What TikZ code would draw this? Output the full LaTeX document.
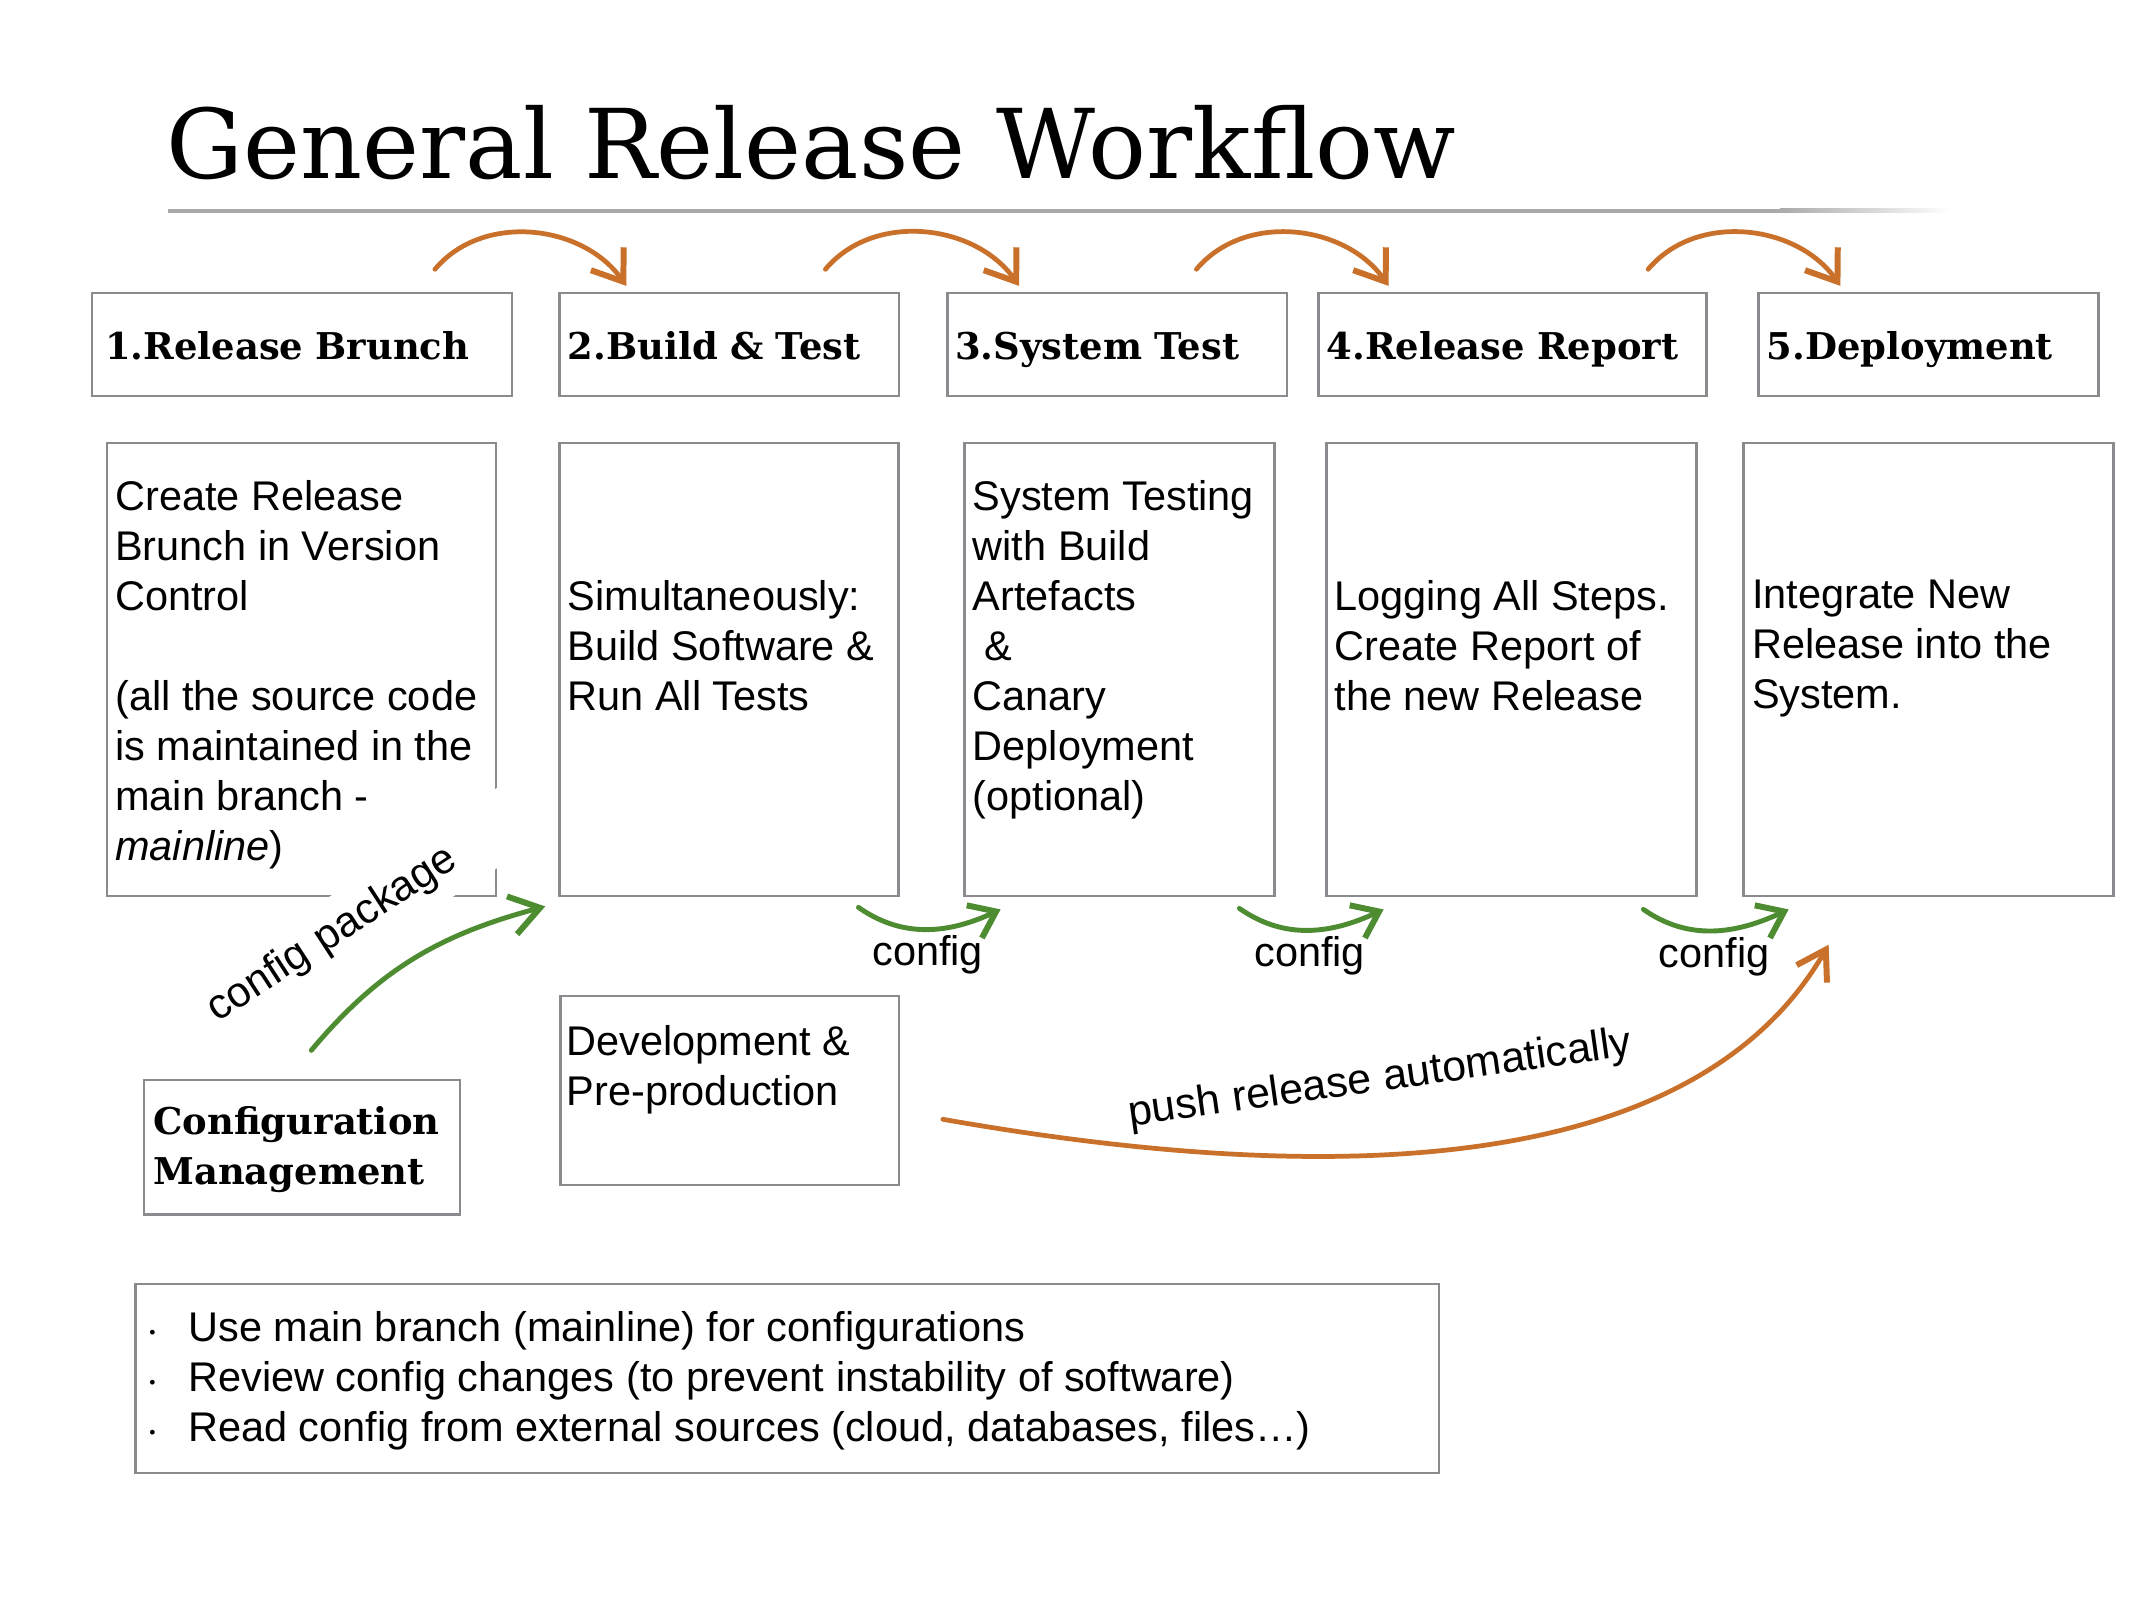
\documentclass[tikz,border=0pt]{standalone}
\usepackage{fontspec}
\setmainfont{Liberation Sans}
\newfontfamily\slabfont{DejaVu Serif}
\usepackage{xcolor}
\usepackage{tikz}
\usetikzlibrary{arrows.meta}

\definecolor{boxgray}{RGB}{138,138,143}
\definecolor{rulegray}{RGB}{170,170,170}
\definecolor{floworange}{RGB}{201,113,42}
\definecolor{cfggreen}{RGB}{78,140,50}

\begin{document}
\begin{tikzpicture}[
  x=1cm,
  y=1cm,
  head/.style={draw=boxgray,line width=0.8pt,minimum height=1.03cm,
    inner xsep=0.8mm,align=left,text height=3.1mm,text depth=0mm,
    font=\slabfont\bfseries\fontsize{10.5}{14.23}\selectfont},
  panel/.style={draw=boxgray,line width=0.8pt,inner sep=0pt},
  stage/.style={panel,minimum height=4.53cm},
  bodytxt/.style={anchor=north west,align=left,inner sep=0pt,
    font=\fontsize{11.8}{14.23}\selectfont},
  lbl/.style={inner sep=0pt,font=\fontsize{11.8}{14.23}\selectfont},
  flow/.style={draw=floworange,line width=1.35pt,line cap=round,
    -{Straight Barb[length=2.8mm,width=4mm,line width=1.7pt]}},
  cfgarrow/.style={draw=cfggreen,line width=1.4pt,line cap=round,
    -{Straight Barb[length=2.4mm,width=3.6mm,line width=1.7pt]}}
]
  \fill[white] (0,0) rectangle (21.33,-16);
  \useasboundingbox (0,0) rectangle (21.33,-16);

  % title
  \node[anchor=base west,inner sep=0pt,
    font=\slabfont\fontsize{27.4}{32}\selectfont]
    (title) at (1.66,-1.783) {General Release Workflow};
  \draw[rulegray,line width=0.4mm] (1.68,-2.11) -- (17.8,-2.11);
  \shade[left color=rulegray,right color=white] (17.8,-2.13) rectangle (19.5,-2.09);

  % stage headers
  \node[head,text width=3.94cm,inner xsep=1.3mm] (h1) at (3.02,-3.445) {1.Release Brunch};
  \node[head,text width=3.234cm] (h2) at (7.293,-3.445) {2.Build \& Test};
  \node[head,text width=3.236cm] (h3) at (11.171,-3.445) {3.System Test};
  \node[head,text width=3.72cm] (h4) at (15.126,-3.445) {4.Release Report};
  \node[head,text width=3.236cm] (h5) at (19.285,-3.445) {5.Deployment};

  % stage contents
  \node[stage,minimum width=3.89cm] (b1) at (3.015,-6.695) {};
  \node[stage,minimum width=3.393cm] (b2) at (7.29,-6.695) {};
  \node[stage,minimum width=3.098cm] (b3) at (11.194,-6.695) {};
  \node[stage,minimum width=3.704cm] (b4) at (15.114,-6.695) {};
  \node[stage,minimum width=3.695cm] (b5) at (19.286,-6.695) {};

  \node[bodytxt] (t1) at ([shift={(0.09,-0.38)}]b1.north west)
    {Create Release\\Brunch in Version\\Control\\[5mm]
     (all the source code\\is maintained in the\\main branch -\\\textit{mainline})};
  \node[bodytxt] (t2) at ([shift={(0.09,-1.377)}]b2.north west)
    {Simultaneously:\\Build Software \&\\Run All Tests};
  \node[bodytxt] (t3) at ([shift={(0.09,-0.38)}]b3.north west)
    {System Testing\\with Build\\Artefacts\\\hspace*{0.278em}\&\\Canary\\Deployment\\(optional)};
  \node[bodytxt] (t4) at ([shift={(0.09,-1.377)}]b4.north west)
    {Logging All Steps.\\Create Report of\\the new Release};
  \node[bodytxt] (t5) at ([shift={(0.09,-1.377)}]b5.north west)
    {Integrate New\\Release into the\\System.};

  % lower boxes
  \node[panel,minimum width=3.386cm,minimum height=1.89cm] (dev) at (7.297,-10.905) {};
  \node[bodytxt] (devtxt) at ([shift={(0.07,-0.30)}]dev.north west)
    {Development \&\\Pre-production};
  \node[panel,minimum width=3.16cm,minimum height=1.347cm] (cfgm) at (3.02,-11.474) {};
  \node[anchor=north west,align=left,inner sep=0pt,
    font=\slabfont\bfseries\fontsize{10.5}{14.23}\selectfont]
    (cfgtxt) at ([shift={(0.10,-0.274)}]cfgm.north west)
    {Configuration\\Management};
  \node[panel,minimum width=13.033cm,minimum height=1.89cm] (notes) at (7.874,-13.785) {};
  \node[bodytxt] (notestxt) at ([shift={(0.143,-0.285)}]notes.north west)
    {\makebox[3.9mm][l]{\raisebox{0.35mm}{\fontsize{5}{5}\selectfont\textbullet}}Use main branch (mainline) for configurations\\
     \makebox[3.9mm][l]{\raisebox{0.35mm}{\fontsize{5}{5}\selectfont\textbullet}}Review config changes (to prevent instability of software)\\
     \makebox[3.9mm][l]{\raisebox{0.35mm}{\fontsize{5}{5}\selectfont\textbullet}}Read config from external sources (cloud, databases, files…)};

  % label over the corner of b1
  \node[lbl,fill=white,rotate=33,inner sep=1.38mm,text width=3.54cm,align=left,
    font=\fontsize{12.1}{14.23}\selectfont]
    (pkglbl) at (3.60,-9.17) {config package};
  \node[lbl,rotate=8,font=\fontsize{12.2}{14.23}\selectfont]
    (pushlbl) at (13.80,-10.80) {push release automatically};

  % stage to stage
  \draw[flow] ([shift={(-0.785,0.223)}]h1.north east) to[out=50,in=125]
    ([shift={(0.681,0.057)}]h2.north west);
  \draw[flow] ([shift={(-0.75,0.223)}]h2.north east) to[out=50,in=125]
    ([shift={(0.732,0.057)}]h3.north west);
  \draw[flow] ([shift={(-0.919,0.223)}]h3.north east) to[out=50,in=125]
    ([shift={(0.714,0.057)}]h4.north west);
  \draw[flow] ([shift={(-0.599,0.223)}]h4.north east) to[out=50,in=125]
    ([shift={(0.831,0.057)}]h5.north west);

  % config hand-over
  \draw[cfgarrow,-{Straight Barb[length=2.9mm,width=3.9mm,line width=1.7pt]}]
    ([shift={(0.093,0.283)}]cfgm.north) to[out=50,in=195]
    ([shift={(-0.127,-0.09)}]b2.south west);
  \draw[cfgarrow] ([shift={(-0.416,-0.10)}]b2.south east) to[out=-35,in=205]
    node[lbl,below=0.4mm] {config} ([shift={(0.375,-0.12)}]b3.south west);
  \draw[cfgarrow] ([shift={(-0.363,-0.11)}]b3.south east) to[out=-35,in=205]
    node[lbl,below=0.4mm] {config} ([shift={(0.588,-0.12)}]b4.south west);
  \draw[cfgarrow] ([shift={(-0.546,-0.12)}]b4.south east) to[out=-35,in=205]
    node[lbl,below=0.4mm] {config} ([shift={(0.462,-0.12)}]b5.south west);

  % release push
  \draw[flow,-{Straight Barb[length=2.8mm,width=3.5mm,line width=1.7pt]}]
    ([shift={(0.425,-0.288)}]dev.east)
    to[out=-10,in=240,out looseness=1.27,in looseness=0.7]
    ([shift={(0.862,-0.473)}]b5.south west);
\end{tikzpicture}
\end{document}
